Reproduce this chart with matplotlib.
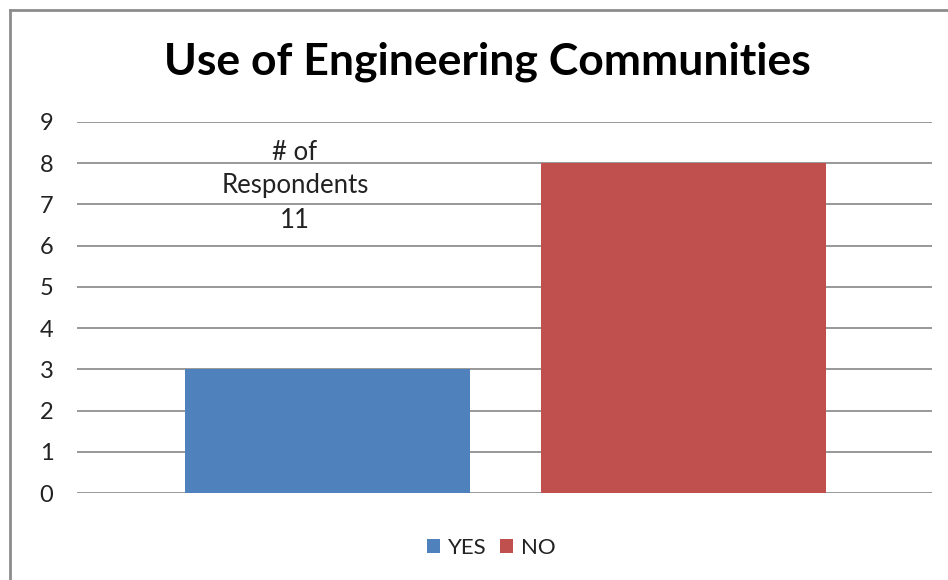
import matplotlib.pyplot as plt
from matplotlib.lines import Line2D

# datos de la encuesta
categorias = ["YES", "NO"]
respuestas = [3, 8]
colores = ["#4F81BD", "#C0504D"]
total_respondentes = 11
titulo = "Use of Engineering Communities"
nota = "# of\nRespondents\n" + str(total_respondentes)

plt.rcParams['font.family'] = ['Lato', 'DejaVu Sans']

fig = plt.figure(figsize=(9.48, 5.8), dpi=100)
W, H = 948, 580

# area del grafico en pixeles
x0, x1 = 77, 932
y0, y1 = 493, 122
ax = fig.add_axes([x0 / W, 1 - y0 / H, (x1 - x0) / W, (y0 - y1) / H])

for i, (cat, val, col) in enumerate(zip(categorias, respuestas, colores)):
    ax.bar(i, val, width=0.8, color=col, label=cat, zorder=3)

ax.set_xlim(-0.704, 1.698)
ax.set_ylim(0, 9)
ax.set_yticks(range(0, 10))
ax.yaxis.grid(True, color="#868686", linewidth=1.2, zorder=0)
ax.set_xticks([])
ax.tick_params(axis='y', length=0, pad=17, labelsize=17, labelcolor="#222222")
for s in ax.spines.values():
    s.set_visible(False)

# nota con el total de respondentes
ax.text(295 / W, 1 - 186 / H, nota, transform=fig.transFigure, ha='center', va='center',
        fontsize=18.5, linespacing=1.45, color="#222222")

fig.text(487 / W, 1 - 62 / H, titulo, ha='center', va='center', fontsize=32,
         fontweight='bold', color='black')

ax.legend(loc='center', bbox_to_anchor=(491 / W, 1 - 548 / H), bbox_transform=fig.transFigure,
          ncol=2, frameon=False, fontsize=16, handlelength=0.6, handleheight=0.6,
          handletextpad=0.35, columnspacing=0.6, labelcolor="#222222")

# marco exterior
borde = "#8c8c8c"
fig.add_artist(Line2D([10 / W, 10 / W], [0, 1 - 10 / H], transform=fig.transFigure,
                      color=borde, linewidth=2))
fig.add_artist(Line2D([10 / W, 1], [1 - 10 / H, 1 - 10 / H], transform=fig.transFigure,
                      color=borde, linewidth=2))

fig.savefig("out.png", dpi=100)
